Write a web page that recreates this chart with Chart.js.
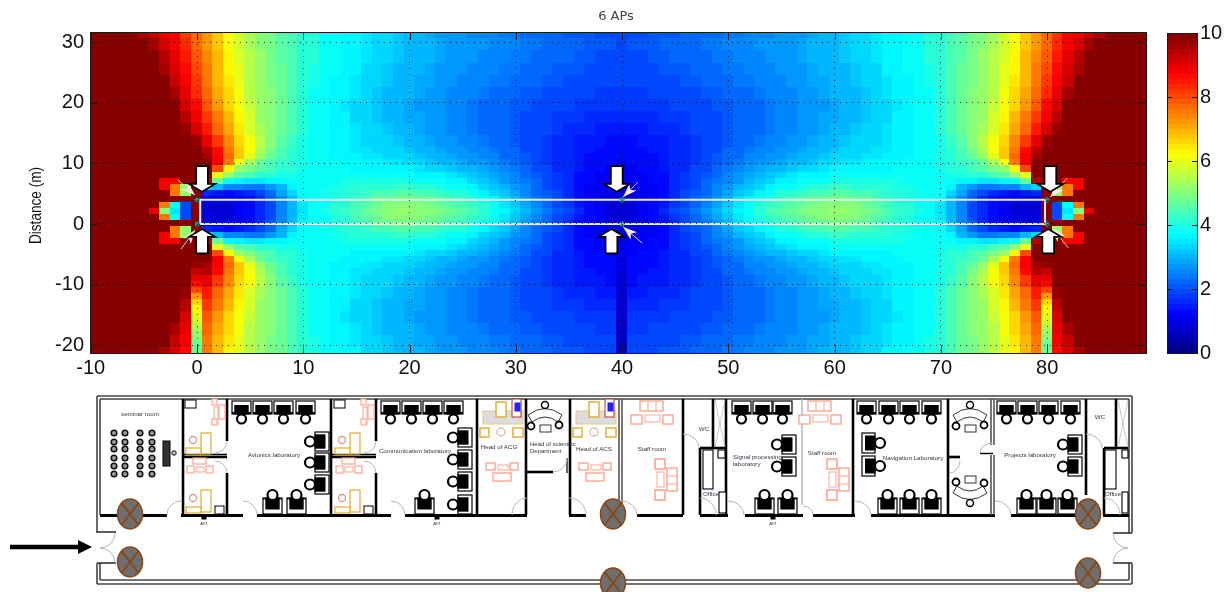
<!DOCTYPE html>
<html><head><meta charset="utf-8">
<style>html,body{margin:0;padding:0;background:#fff;overflow:hidden}
#plan{position:absolute;left:0;top:0;filter:blur(.5px)}
#heat{position:absolute;left:0;top:0}#bar{position:absolute;left:1160px;top:0}</style>
<script src="https://cdn.jsdelivr.net/npm/chart.js@4"></script></head><body>
<svg id="plan" width="1232" height="592" xmlns="http://www.w3.org/2000/svg"></svg>
<canvas id="heat" width="1232" height="375"></canvas>
<canvas id="bar" width="72" height="375"></canvas>
<script>
const chartTitle='6 APs', yAxisTitle='Distance (m)';
const xTicks=[-10,0,10,20,30,40,50,60,70,80];
const yTicks=[-20,-10,0,10,20,30];
const colorTicks=[0,2,4,6,8,10];
const corridorX=[0.3,79.8,79.8,0.3,0.3];
const corridorY=[0,0,4,4,0];
const apX=[0,0,40,40,80,80];
const apY=[4,0,4,0,4,0];
const apBlockX=[0,0,80,80];
const apBlockY=[4,0,4,0];
// Values per row for x = -10 ... 40 (right half reads back from x = 80 - x)
const row2=[10,10,10,10,10,10,9,5,3.5,1.9, 10,.8,.8,.9,1.1,1.3,1.6,2,2.5,3, 3.5,3.8,4,4.2,4.3,4.5,4.7,4.9,5.1,5.2, 5.2,5.1,5,4.9,4.7,4.6,4.4,4.2,3.9,3.6, 3.3,3,2.7,2.4,2.1,1.9,1.6,1.3,1.1,.9,.85];
const row3=[10,10,10,10,10,10,10,7.5,3.8,2, 10,.8,.8,.9,1.1,1.3,1.6,2,2.5,3, 3.5,3.8,3.9,4.1,4.2,4.4,4.6,4.8,5,5.1, 5.1,5,4.9,4.8,4.6,4.5,4.3,4.1,3.8,3.5, 3.2,2.9,2.6,2.3,2,1.8,1.5,1.3,1.1,.9,.85];
const row4=[10,10,10,10,10,10,10,10,10,10, 10,1,1,1.1,1.2,1.4,1.7,2.1,2.6,3.1, 3.6,3.8,3.9,4,4.1,4.3,4.5,4.7,4.8,4.9, 4.9,4.8,4.7,4.6,4.5,4.3,4.1,3.9,3.6,3.3, 3,2.7,2.4,2.2,1.9,1.7,1.4,1.2,1,.9,.85];
const row5=[10,10,10,10,10,10,10,10,7.5,5.2, 10,1.6,1.5,1.4,1.5,1.6,1.9,2.3,2.9,3.4, 3.8,3.9,4,4,4.1,4.2,4.3,4.4,4.5,4.6, 4.6,4.5,4.4,4.3,4.2,4.1,3.9,3.7,3.4,3.2, 2.9,2.6,2.3,2.1,1.9,1.6,1.4,1.2,1.1,1,.95];
const row6=[10,10,10,10,10,10,10,8.8,7.5,5.3, 10,3.4,3,2.6,2.5,2.4,2.4,2.7,3.1,3.6, 3.8,3.9,3.9,4,4,4.1,4.1,4.2,4.2,4.3, 4.3,4.2,4.1,4,3.9,3.8,3.6,3.4,3.2,3, 2.7,2.5,2.2,2,1.8,1.6,1.4,1.2,1.1,1.05,1];
const row7=[10,10,10,10,10,10,10,8.8,8.8,10, 10,9.5,4.8,3.9,3.7,3.5,3.5,3.6,3.7,3.8, 3.9,3.9,3.9,3.9,4,4,4,4,4,4, 4,3.9,3.9,3.8,3.7,3.6,3.4,3.2,3,2.8, 2.6,2.4,2.2,2,1.8,1.6,1.4,1.3,1.15,1.1,1.05];
const row8=[10,10,10,10,10,10,10,10,10,10, 10,10,6,5.3,4.6,4.4,4.2,4.1,4,4, 3.9,3.9,3.9,3.8,3.8,3.8,3.8,3.8,3.8,3.8, 3.8,3.7,3.6,3.6,3.5,3.4,3.2,3.1,2.9,2.7, 2.5,2.3,2.1,1.9,1.8,1.6,1.4,1.3,1.2,1.15,1.1];
const row9=[10,10,10,10,10,10,10,10,10,10, 10,10,8,6.3,5.2,4.9,4.6,4.4,4.2,4.1, 4,3.9,3.9,3.8,3.8,3.7,3.7,3.7,3.6,3.6, 3.6,3.5,3.4,3.3,3.2,3.1,3,2.9,2.7,2.5, 2.4,2.2,2,1.9,1.7,1.6,1.45,1.35,1.25,1.2,1.15];
const row10=[10,10,10,10,10,10,10,10,10,10, 10,10,8.8,7.6,6.2,5.4,4.8,4.5,4.3,4.1, 4,3.9,3.8,3.8,3.7,3.7,3.6,3.6,3.5,3.5, 3.4,3.3,3.2,3.1,3,2.9,2.8,2.7,2.6,2.4, 2.3,2.1,2,1.8,1.7,1.6,1.5,1.4,1.3,1.25,1.2];
const row11=[10,10,10,10,10,10,10,10,10,10, 10,9.6,8.9,7.8,6.8,6,5.3,4.8,4.5,4.2, 4,3.9,3.8,3.7,3.7,3.6,3.5,3.5,3.4,3.4, 3.3,3.2,3.1,3,2.9,2.8,2.7,2.6,2.5,2.3, 2.2,2.1,1.9,1.8,1.7,1.6,1.5,1.4,1.35,1.3,1.25];
const row12=[10,10,10,10,10,10,10,10,10,10, 10,9.4,8.6,7.6,6.8,6.2,5.4,4.9,4.5,4.2, 4,3.9,3.8,3.7,3.6,3.5,3.5,3.4,3.3,3.3, 3.2,3.1,3,2.9,2.8,2.7,2.6,2.5,2.4,2.3, 2.2,2,1.9,1.8,1.7,1.6,1.5,1.45,1.4,1.35,1.3];
const row13=[10,10,10,10,10,10,10,10,10,10, 9.7,9,8.2,7.4,6.7,6.1,5.5,5,4.6,4.3, 4,3.9,3.8,3.7,3.6,3.5,3.4,3.3,3.3,3.2, 3.1,3,2.9,2.8,2.7,2.6,2.5,2.4,2.3,2.2, 2.1,2,1.9,1.8,1.7,1.6,1.55,1.5,1.45,1.4,1.35];
const row15=[10,10,10,10,10,10,10,10,10,9.8, 9.2,8.5,7.8,7.1,6.5,5.9,5.4,5,4.7,4.4, 4.1,3.9,3.8,3.7,3.6,3.5,3.4,3.3,3.2,3.1, 3,2.9,2.8,2.7,2.6,2.5,2.4,2.3,2.3,2.2, 2.1,2,1.9,1.9,1.8,1.7,1.65,1.6,1.55,1.5,1.5];
const row17=[10,10,10,10,10,10,10,10,10,9.5, 8.9,8.2,7.5,6.9,6.3,5.8,5.3,5,4.7,4.4, 4.1,3.9,3.8,3.7,3.6,3.4,3.3,3.2,3.1,3, 2.9,2.9,2.8,2.7,2.6,2.5,2.4,2.3,2.2,2.2, 2.1,2,2,1.9,1.85,1.8,1.75,1.7,1.7,1.65,1.65];
const row19=[10,10,10,10,10,10,10,10,9.9,9.2, 8.6,7.9,7.3,6.7,6.2,5.7,5.3,5,4.7,4.4, 4.1,3.9,3.8,3.7,3.5,3.4,3.3,3.2,3.1,3, 2.9,2.8,2.8,2.7,2.6,2.5,2.4,2.3,2.3,2.2, 2.1,2.1,2,2,1.9,1.9,1.85,1.8,1.8,1.75,1.75];
const row21=[10,10,10,10,10,10,10,10,9.6,9, 8.4,7.7,7.1,6.6,6.1,5.6,5.3,5,4.7,4.4, 4.1,3.9,3.8,3.7,3.6,3.5,3.3,3.2,3.1,3, 3,2.9,2.8,2.7,2.6,2.6,2.5,2.4,2.3,2.3, 2.2,2.1,2.1,2,2,1.95,1.9,1.9,1.85,1.85,1.85];
const row23=[10,10,10,10,10,10,10,9.9,9.3,8.8, 8.2,7.6,7,6.5,6,5.6,5.2,4.9,4.7,4.4, 4.2,4,3.9,3.7,3.6,3.5,3.4,3.3,3.2,3.1, 3,2.9,2.9,2.8,2.7,2.6,2.6,2.5,2.4,2.4, 2.3,2.2,2.2,2.1,2.1,2,2,2,1.95,1.95,1.9];
const row25=[10,10,10,10,10,10,10,9.6,9.1,8.6, 8,7.5,7,6.4,6,5.6,5.2,4.9,4.7,4.4, 4.2,4,3.9,3.8,3.7,3.6,3.4,3.3,3.2,3.1, 3.1,3,2.9,2.8,2.8,2.7,2.6,2.6,2.5,2.4, 2.4,2.3,2.2,2.2,2.1,2.1,2.05,2,2,1.95,1.95];
const row27=[10,10,10,10,10,10,9.9,9.4,9,8.5, 7.9,7.4,6.9,6.3,5.9,5.5,5.2,4.9,4.6,4.4, 4.2,4.1,3.9,3.8,3.7,3.6,3.5,3.4,3.3,3.2, 3.1,3,3,2.9,2.8,2.7,2.7,2.6,2.6,2.5, 2.4,2.4,2.3,2.3,2.2,2.2,2.1,2.1,2,2,1.95];
const row29=[10,10,10,10,10,10,9.6,9.2,8.9,8.3, 7.7,7.3,6.8,6.2,5.8,5.4,5.1,4.9,4.6,4.4, 4.2,4.1,3.9,3.8,3.7,3.6,3.5,3.4,3.3,3.2, 3.1,3.1,3,2.9,2.8,2.8,2.7,2.7,2.6,2.5, 2.5,2.4,2.4,2.3,2.3,2.2,2.2,2.1,2.1,2.05,2];
const row31=[10,10,10,10,10,9.6,9.3,9,8.8,8.2, 7.7,7.3,6.8,6.2,5.8,5.4,5.1,4.9,4.6,4.4, 4.2,4.1,3.9,3.8,3.7,3.6,3.5,3.4,3.3,3.2, 3.1,3,2.9,2.8,2.7,2.7,2.6,2.6,2.5,2.4, 2.4,2.3,2.3,2.2,2.2,2.1,2.1,2.1,2,2,2];
// Columns that differ below the corridor: x = 40 (y = -6 ... -21), x = 0 and 80 (y = -7 ... -21)
const apColumn40=[1.05,1,.95,.9,.9,.85,.85,.8,.8,.8,.75,.75,.7,.7,.7,.7];
const apColumn0=[9.7,9.3,9,8.6,8,7.3,6.7,6.3,6,5.8,5.5,5.2,5,4.8,4.7];
// Annotation arrows, in axis units
const downArrowX=[.47,39.5,80.3], upArrowX=[.47,39,80.1];
const pinkTailX=[-1.79,-1.5,41.5,41.9,81.9,82], pinkTailY=[7.26,-4.13,6.93,-3.14,7.6,-3.96];
const pinkTipX=[-.19,-.19,40.1,40.1,80.3,80.5], pinkTipY=[4.79,-.99,4.46,-.5,4.46,-.66];

const rowsByY={2:row2,3:row3,4:row4,5:row5,6:row6,7:row7,8:row8,9:row9,10:row10,11:row11,12:row12,13:row13,15:row15,17:row17,19:row19,21:row21,23:row23,25:row25,27:row27,29:row29,31:row31};
function rowFor(y){ if(y<2) y=4-y; if(y>12 && y%2===0) y-=1; return rowsByY[y]; }
function cellValue(x,y){
  if(x===40 && y<=-6) return apColumn40[-6-y];
  if((x===0||x===80) && y<=-7) return apColumn0[-7-y];
  const c=x<=40?x:80-x;
  return rowFor(y)[c+10];
}
function jet(v){
  const i=Math.min(63,Math.floor(v/10*64)), t=(i+.5)/64;
  const f=c=>Math.round(255*Math.max(0,Math.min(1,1.5-Math.abs(4*t-c))));
  return `rgb(${f(3)},${f(2)},${f(1)})`;
}
const cache={};
function cellImage(w,h,color){
  const k=w+'|'+h+'|'+color; if(cache[k]) return cache[k];
  const c=document.createElement('canvas'); c.width=w;c.height=h;
  const g=c.getContext('2d'); g.fillStyle=color; g.fillRect(0,0,w,h);
  return cache[k]=c;
}
const heatCells=[];
for(let y=32;y>=-21;y--) for(let x=-10;x<=89;x++) heatCells.push({x,y,v:cellValue(x,y)});

const framePlugin={id:'frameTicks',afterDraw(ch){
  const a=ch.chartArea,g=ch.ctx,L=ch.canvas.id==='bar'?5:8;
  g.save();g.strokeStyle='#1a1a1a';g.lineWidth=1;
  g.strokeRect(a.left+.5,a.top+.5,a.right-a.left,a.bottom-a.top);
  g.beginPath();
  if(ch.scales.x.options.display) ch.scales.x.ticks.forEach(t=>{const p=Math.round(ch.scales.x.getPixelForValue(t.value))+.5;
    g.moveTo(p,a.top);g.lineTo(p,a.top+L);g.moveTo(p,a.bottom);g.lineTo(p,a.bottom-L);});
  ch.scales.y.ticks.forEach(t=>{const p=Math.round(ch.scales.y.getPixelForValue(t.value))+.5;
    g.moveTo(a.left,p);g.lineTo(a.left+L,p);g.moveTo(a.right,p);g.lineTo(a.right-L,p);});
  g.stroke();g.restore();
}};
const arrowPlugin={id:'arrows',afterDraw(ch){
  const g=ch.ctx,X=ch.scales.x,Y=ch.scales.y;
  g.save();
  pinkTailX.forEach((_,i)=>{
    const x0=X.getPixelForValue(pinkTailX[i]),y0=Y.getPixelForValue(pinkTailY[i]),x1=X.getPixelForValue(pinkTipX[i]),y1=Y.getPixelForValue(pinkTipY[i]);
    const d=Math.hypot(x1-x0,y1-y0),ux=(x1-x0)/d,uy=(y1-y0)/d;
    g.strokeStyle='#f3c9c0';g.lineWidth=1;g.beginPath();g.moveTo(x0,y0);g.lineTo(x1,y1);g.stroke();
    g.fillStyle='#fbeee8';g.beginPath();g.moveTo(x1,y1);
    g.lineTo(x1-ux*14-uy*5,y1-uy*14+ux*5);g.lineTo(x1-ux*10,y1-uy*10);g.lineTo(x1-ux*14+uy*5,y1-uy*14-ux*5);g.closePath();g.fill();
  });
  const block=(x,tail,tip)=>{
    const px=X.getPixelForValue(x),a=Y.getPixelForValue(tail),b=Y.getPixelForValue(tip),s=b>a?1:-1;
    g.beginPath();g.moveTo(px-5,a);g.lineTo(px+5,a);g.lineTo(px+5,b-s*6);g.lineTo(px+10,b-s*6);g.lineTo(px,b);g.lineTo(px-10,b-s*6);g.lineTo(px-5,b-s*6);g.closePath();
    g.fillStyle='#fff';g.strokeStyle='#000';g.lineWidth=3.4;g.lineJoin='miter';g.stroke();g.fill();
  };
  downArrowX.forEach(x=>block(x,9.4,5.5));
  upArrowX.forEach(x=>block(x,-4.7,-1));
  // rotated y axis title, narrowed like the original
  g.save();g.translate(36,205.5);g.rotate(-Math.PI/2);g.scale(.8,1);
  g.font='17px "Liberation Sans",Arial,sans-serif';g.fillStyle='#111';g.textAlign='center';g.textBaseline='middle';
  g.fillText(yAxisTitle,0,0);g.restore();
  g.restore();
}};
const tickFont={family:'"Liberation Sans",Arial,sans-serif',size:20};
const gridOpts={color:'rgba(0,0,0,.75)',lineWidth:1,drawTicks:false,z:1};
const borderOpts={display:false,dash:[1,5]};
new Chart(document.getElementById('heat'),{type:'scatter',
  data:{datasets:[
    {label:'blocks',data:apBlockX.map((x,i)=>({x,y:apBlockY[i]})),pointStyle:'rect',pointRadius:3.5,pointBackgroundColor:'#00009a',pointBorderWidth:0,order:3},
    {label:'APs',data:apX.map((x,i)=>({x,y:apY[i]})),pointStyle:'star',pointRadius:3,pointBorderColor:'#35b04a',pointBorderWidth:1,order:1},
    {label:'corridor',data:corridorX.map((x,i)=>({x,y:corridorY[i]})),showLine:true,pointRadius:0,borderColor:'#e8ece8',borderWidth:2,order:2},
    {label:'heat',data:heatCells,order:10,pointRadius:5,pointBorderWidth:0,
     pointStyle(c){const s=c.chart.scales,w=Math.ceil(Math.abs(s.x.getPixelForValue(1)-s.x.getPixelForValue(0)))+1,h=Math.ceil(Math.abs(s.y.getPixelForValue(1)-s.y.getPixelForValue(0)))+1;
       return cellImage(w,h,jet(c.raw?c.raw.v:0));}}
  ]},
  options:{responsive:false,animation:false,devicePixelRatio:1,events:[],
    layout:{padding:0},
    plugins:{legend:{display:false},tooltip:{enabled:false},
      title:{display:true,text:chartTitle,color:'#444',font:{family:'"DejaVu Sans",sans-serif',size:13,weight:'normal'},padding:{top:9,bottom:7.4}}},
    scales:{
      x:{type:'linear',min:-10.07,max:89.3,grid:gridOpts,border:borderOpts,
        afterBuildTicks(s){s.ticks=xTicks.map(value=>({value}));},afterFit(s){s.height=22;},
        ticks:{font:tickFont,color:'#111',padding:3,maxRotation:0,autoSkip:false}},
      y:{type:'linear',min:-21.3,max:31.7,grid:gridOpts,border:borderOpts,
        afterBuildTicks(s){s.ticks=yTicks.map(value=>({value}));},afterFit(s){s.width=90;},
        ticks:{font:tickFont,color:'#111',padding:6,autoSkip:false}},
      spacer:{type:'linear',position:'right',min:0,max:1,grid:{display:false,drawTicks:false},border:{display:false},
        ticks:{display:false},afterFit(s){s.width=86;}}
    }},
  plugins:[framePlugin,arrowPlugin]});
const barLevels=[];for(let i=0;i<64;i++)barLevels.push({x:0,y:(i+.5)*10/64,v:(i+.5)*10/64});
new Chart(document.getElementById('bar'),{type:'scatter',
  data:{datasets:[{data:barLevels,pointRadius:5,pointBorderWidth:0,pointStyle(c){return cellImage(32,7,jet(c.raw?c.raw.v:0));}}]},
  options:{responsive:false,animation:false,devicePixelRatio:1,events:[],
    layout:{padding:{left:7,right:0,top:33,bottom:22}},
    plugins:{legend:{display:false},tooltip:{enabled:false},title:{display:false}},
    scales:{x:{type:'linear',min:-1,max:1,display:false},
      y:{type:'linear',position:'right',min:0,max:10,grid:{display:false,drawTicks:false},border:{display:false},
        afterBuildTicks(s){s.ticks=colorTicks.map(value=>({value}));},afterFit(s){s.width=35;},
        ticks:{font:tickFont,color:'#111',padding:3,autoSkip:false}}}},
  plugins:[framePlugin]});

// Floor plan drawing underneath the chart
let s='';
const L=(a,b,c,d,w=2.5,col='#000')=>{s+=`<line x1="${a}" y1="${b}" x2="${c}" y2="${d}" stroke="${col}" stroke-width="${w}"/>`;};
const R=(x,y,w,h,st='#000',f='#fff',sw=1)=>{s+=`<rect x="${x}" y="${y}" width="${w}" height="${h}" stroke="${st}" fill="${f}" stroke-width="${sw}"/>`;};
const C=(x,y,r,st='#000',f='#fff',sw=1.5)=>{s+=`<circle cx="${x}" cy="${y}" r="${r}" stroke="${st}" fill="${f}" stroke-width="${sw}"/>`;};
const T=(x,y,t,z=6.2,a='middle',c='#334')=>{s+=`<text x="${x}" y="${y}" font-family="Liberation Sans,Arial,sans-serif" font-size="${z}" text-anchor="${a}" fill="${c}">${t}</text>`;};
const arc=(a,b,c,d,sw=1)=>{s+=`<path d="M${a} ${b} A${Math.abs(c-a)} ${Math.abs(d-b)} 0 0 ${sw} ${c} ${d}" fill="none" stroke="#b5b5b5" stroke-width="1"/>`;};
// outer walls
[[97,396,1132,396],[100,399,1129,399],[97,584,1132,584],[100,580,1129,580]].forEach(a=>L(...a,1.6,'#444'));
[[97,396,97,533],[100,399,100,515],[97,563,97,584],[100,563,100,580],[1132,396,1132,533],[1129,399,1129,533],[1132,563,1132,584],[1129,563,1129,580]].forEach(a=>L(...a,1.6,'#444'));
[[97,532,116,532],[97,563,116,563],[1113,533,1132,533],[1113,563,1132,563]].forEach(a=>L(...a,1.6,'#333'));
// corridor wall
[[100,167],[181,243],[257,391],[405,527],[569,586],[637,683],[700,728],[745,803],[813,855],[871,995],[1011,1085],[1103,1129]].forEach(a=>L(a[0],515.5,a[1],515.5,3));
// room walls
[[183,399,183,515],[227,399,227,441],[227,473,227,515],[183,457,227,457],[331,399,331,515],[376,399,376,441],[376,473,376,515],[331,457,376,457],
 [477,399,477,515],[526,399,526,515],[570,399,570,515],[526,472,553,472],[683,399,683,515],[726,399,726,515],[713,399,713,447],[700,448,726,448],[700,448,700,515],
 [853,399,853,515],[948,399,948,515],[948,457,960,457],[1086,399,1086,495],[1116,399,1116,448],[1104,448,1128,448],[1104,448,1104,515]].forEach(a=>L(...a,2.6));
[[619,399,619,515],[622,399,622,515],[991,399,991,445],[994,399,994,445],[991,455,991,515],[994,455,994,515]].forEach(a=>L(...a,1.6,'#555'));
L(802,399,802,505,1.6,'#bbb');
L(183,454.5,227,454.5,1.4);L(331,454.5,376,454.5,1.4);L(980,453.5,993,453.5,1.4);L(567,458,567,473,2,'#666');
// doors
arc(167,515,181,501,1);arc(243,501,257,515,1);arc(391,501,405,515,1);arc(512,515,527,498,1);arc(569,498,586,515,1);arc(621,501,637,515,1);arc(683,434,699,448,1);arc(728,501,744,515,1);arc(803,506,813,515,1);arc(855,501,871,515,1);arc(995,501,1011,515,1);arc(1086,434,1102,448,1);arc(700,498,716,515,1);arc(1104,498,1120,515,1);
arc(227,441,215,453,1);arc(215,461,227,473,1);arc(376,441,364,453,1);arc(364,461,376,473,1);arc(993,443,980,453,0);arc(949,473,960,461,0);arc(553,472,567,458,0);
arc(115,533,100,548,1);arc(100,548,115,563,1);arc(1113,533,1128,548,0);arc(1128,548,1113,563,0);
// desks with chairs
function desk(x,y,w,h,d){
  R(x,y,w,h,'#000','#fff',1.2);
  const cx=x+w/2,cy=y+h/2;
  if(d==='d'){R(cx-w*.35,cy-2,w*.7,h/2+2,'#000','#000');L(x,y+h-1,x+w,y+h-1,2);C(cx,y+h+5,4.5,'#000','#fff',2.2);}
  if(d==='u'){R(cx-w*.35,y,w*.7,h/2+3,'#000','#000');L(x,y+1,x+w,y+1,1);C(cx,y-3,5,'#000','#fff',2.2);}
  if(d==='l'){R(x,cy-h*.35,w/2+3,h*.7,'#000','#000');C(x-5,cy,5,'#000','#fff',2.2);}
  if(d==='r'){R(cx-3,cy-h*.35,w/2+3,h*.7,'#000','#000');C(x+w+5,cy,5,'#000','#fff',2.2);}
}
[232,253,274,296,381,402,423,444,732,753,773,857,879,900,922,997,1018,1039,1061].forEach(x=>desk(x,401,19,13,'d'));
[263,287,415,755,778,878,900,922,1017,1037,1058].forEach(x=>desk(x,498,19,16,'u'));
[[315,432],[315,453],[315,475],[458,428],[458,450],[458,472],[458,495],[782,435],[782,457],[1068,435],[1068,457]].forEach(a=>desk(a[0],a[1],14,19,'l'));
[[862,433],[862,456]].forEach(a=>desk(a[0],a[1],13,20,'r'));
// seminar room
[114,125,140,152].forEach(x=>[433,442,449,458,466,474].forEach(y=>{C(x,y,2.8,'#111','#999',1.5);}));
R(163,441,7,25,'#000','#333',1);C(174,453,2.2,'#000','#ccc',1);
// small office furniture
const sal='#fda58e',yel='#e0ac2c';
[0,149].forEach(o=>{
  R(185+o,400,11,8);R(215+o,506,9,8);
  R(212+o,399,5,6,sal,'#fff',1.2);R(214+o,407,4,17,sal,'#fff',1);R(219+o,405,6,14,sal,'#fff',1.2);R(212+o,419,5,6,sal,'#fff',1.2);
  [433,490].forEach((y,i)=>{R(201+o,y,10,i?22:21,yel,'#fff',1.2);R(186+o,y+(i?17:15),15,6,yel,'#fff',1.2);C(193+o,y+(i?8:7),3.5,'#e39a85','#fff',1.3);});
  R(193+o,458,13,6,sal,'#fff',1.2);R(187+o,466,7,7,sal,'#fff',1.2);R(196+o,467,8,5,sal,'#fff',1);R(206+o,466,7,7,sal,'#fff',1.2);
});
// head rooms
[0,93].forEach(o=>{
  R(483+o,411,40,13,'#e8c88a','#ddd',1);R(496+o,402,10,15,yel,'#fff',1.4);R(512+o,399,9,18,'#a33','#fff',1);R(515+o,403,5,8,'#22f','#22f',1);
  R(480+o,428,9,9,yel,'#fff',1.4);R(513+o,428,10,9,yel,'#fff',1.4);C(501+o,432,4,'#d9c7a0','#fff',1.5);
  R(486+o,463,9,7,sal,'#fff',1.4);R(498+o,465,10,5,sal,'#fff',1);R(510+o,463,8,7,sal,'#fff',1.4);R(493+o,473,18,8,sal,'#fff',1.4);
});
// staff rooms
[0,168].forEach(o=>{
  R(640+o,401,23,10,sal,'#fff',1.4);L(648+o,401,648+o,411,1,sal);L(656+o,401,656+o,411,1,sal);
  R(631+o,415,11,9,sal,'#fff',1.4);R(645+o,415,15,7,sal,'#fff',1);R(663+o,415,10,9,sal,'#fff',1.4);
});
[0,172].forEach(o=>{
  R(655+o,459,10,10,sal,'#fff',1.6);R(655+o,490,10,10,sal,'#fff',1.6);R(657+o,472,7,15,sal,'#fff',1);R(667+o,468,10,23,sal,'#fff',1.4);L(667+o,476,677+o,476,1,sal);L(667+o,484,677+o,484,1,sal);
});
// meeting desks
function meet(cx,y,f){
  const d=f?-1:1,cy=y;
  s+=`<path d="M${cx-17} ${cy+7*d} Q${cx} ${cy-6*d} ${cx+17} ${cy+7*d} L${cx+13} ${cy+14*d} Q${cx} ${cy+4*d} ${cx-13} ${cy+14*d} Z" fill="#fff" stroke="#333" stroke-width="1"/>`;
  C(cx,cy-3*d,3.5,'#000','#fff',1.5);C(cx-14,cy+18*d,3.5,'#000','#fff',1.8);C(cx+14,cy+17*d,3.5,'#000','#fff',1.8);R(cx-5,cy+(f?-24:17),11,7,'#333','#fff',1);
}
meet(545,408,false);meet(970,408,false);meet(970,500,true);
// offices and shafts
[[703,450,10,39],[719,492,7,21],[718,450,7,8],[1105,450,11,39],[1122,492,6,21],[1122,450,6,8]].forEach(a=>R(...a,'#000','#fff',1.1));
[[715,400,725,447],[1118,400,1128,447]].forEach(a=>{L(a[0],a[1],a[2],a[3],.8,'#bbb');L(a[2],a[1],a[0],a[3],.8,'#bbb');});
// labels
T(140,416,'seminar room');T(274,457,'Avionics laboratory');T(415,453,'Communication laboratory');T(499,449,'Head of ACG');
T(530,446,'Head of scientific',6,'start');T(530,453,'Department',6,'start');T(594,451,'Head of ACS');T(652,451,'Staff room');T(704,431,'WC');T(711,496,'Office');
T(733,459,'Signal processing',6.2,'start');T(733,466,'laboratory',6.2,'start');T(822,455,'Staff room');T(913,460,'Navigation Laboratory');T(1030,457,'Projects laboratory');T(1100,419,'WC');T(1113,496,'Office');
[204,437,773].forEach(x=>{R(x-2,516,4,3,'#000','#000');T(x,525,'AP1',4);});
// AP ovals
[[130,514],[130,562],[613,514],[613,583],[1088,514],[1088,573]].forEach(a=>{
  const [x,y]=a;
  s+=`<ellipse cx="${x}" cy="${y}" rx="12.5" ry="15" fill="#6e6e6e" stroke="#8a4513" stroke-width="1.5"/>`;
  L(x-8.5,y-11,x+8.5,y+11,1.8,'#8a4513');L(x+8.5,y-11,x-8.5,y+11,1.8,'#8a4513');
});
// entrance arrow
L(10,547,80,547,4.5);s+='<path d="M78 540 L92 547 L78 554 Z" fill="#000"/>';
document.getElementById('plan').innerHTML=s;
</script></body></html>
